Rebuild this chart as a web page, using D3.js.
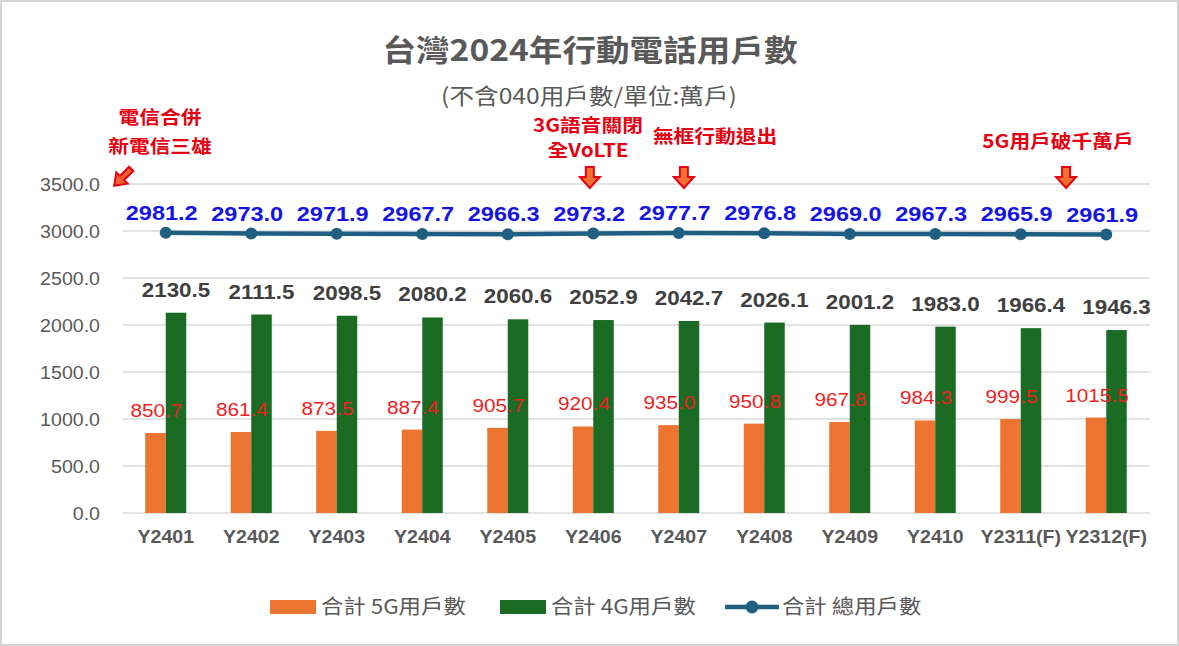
<!DOCTYPE html>
<html><head><meta charset="utf-8">
<script src="https://cdn.jsdelivr.net/npm/d3@7"></script>
<style>
html,body{margin:0;padding:0;background:#fff;}
svg{display:block;}
text{font-family:"Liberation Sans",Arial,"Noto Sans CJK TC",sans-serif;}
.cjk{font-family:"Noto Sans CJK TC","Liberation Sans",sans-serif;}
</style></head>
<body>
<script>
const categories = ["Y2401","Y2402","Y2403","Y2404","Y2405","Y2406","Y2407","Y2408","Y2409","Y2410","Y2311(F)","Y2312(F)"];
const users5G = [850.7,861.4,873.5,887.4,905.7,920.4,935.0,950.8,967.8,984.3,999.5,1015.5];
const users4G = [2130.5,2111.5,2098.5,2080.2,2060.6,2052.9,2042.7,2026.1,2001.2,1983.0,1966.4,1946.3];
const usersTotal = [2981.2,2973.0,2971.9,2967.7,2966.3,2973.2,2977.7,2976.8,2969.0,2967.3,2965.9,2961.9];
const yTicks = [0,500,1000,1500,2000,2500,3000,3500];
const seriesNames = ["合計 5G用戶數","合計 4G用戶數","合計 總用戶數"];
const title = "台灣2024年行動電話用戶數";
const subtitle = "(不含040用戶數/單位:萬戶)";
const eventCats = ["Y2401","Y2406","Y2407","Y2312(F)"];
const eventTexts = [["電信合併","新電信三雄"],["3G語音關閉","全VoLTE"],["無框行動退出"],["5G用戶破千萬戶"]];

const W = 1179, H = 646, SX = 1.12;
const C5 = "#ed7431", C4 = "#1b6b25", CL = "#1f5f82", GRID = "#d9d9d9", TXT = "#595959";
const svg = d3.select("body").append("svg").attr("width", W).attr("height", H);
svg.append("rect").attr("x",1).attr("y",1).attr("width",W-2).attr("height",H-2)
  .attr("fill","#fff").attr("stroke","#d4d4d4").attr("stroke-width",2);

const x = d3.scaleBand().domain(categories).range([123,1149]).paddingInner(0).paddingOuter(0);
const y = d3.scaleLinear().domain([0,3500]).range([513,184]);
const sub = d3.scaleBand().domain(["5G","4G"]).range([0,41]);
const off = (x.bandwidth()-41)/2;

// grid
svg.append("g").selectAll("line").data(yTicks).join("line")
  .attr("x1",123).attr("x2",1150).attr("y1",d=>y(d)).attr("y2",d=>y(d))
  .attr("stroke",GRID).attr("stroke-width",1.5);
// y axis
const yAxis = svg.append("g").attr("transform","translate(100,0)")
  .call(d3.axisLeft(y).tickValues(yTicks).tickFormat(d3.format(".1f")).tickSize(0).tickPadding(0));
yAxis.select(".domain").remove();
yAxis.selectAll("text").attr("fill",TXT).attr("font-size",17.5).attr("dy","0.35em")
  .style("font-family","'Liberation Sans',Arial,sans-serif");
// x axis
const xAxis = svg.append("g").attr("transform","translate(0,530)")
  .call(d3.axisBottom(x).tickSize(0).tickPadding(0));
xAxis.select(".domain").remove();
xAxis.selectAll("text").attr("fill",TXT).attr("font-size",17.5).attr("font-weight","bold")
  .attr("dy","0.75em").style("font-family","'Liberation Sans',Arial,sans-serif");

// bars 5G
svg.append("g").selectAll("rect").data(users5G).join("rect")
  .attr("x",(d,i)=>x(categories[i])+off+sub("5G")).attr("width",sub.bandwidth())
  .attr("y",d=>y(d)).attr("height",d=>y(0)-y(d)).attr("fill",C5);
// bars 4G
svg.append("g").selectAll("rect").data(users4G).join("rect")
  .attr("x",(d,i)=>x(categories[i])+off+sub("4G")).attr("width",sub.bandwidth())
  .attr("y",d=>y(d)).attr("height",d=>y(0)-y(d)).attr("fill",C4);

// 5G labels
svg.append("g").selectAll("text").data(users5G).join("text")
  .attr("x",(d,i)=>x(categories[i])+off+sub("5G")+sub.bandwidth()/2+1)
  .attr("y",d=>y(d)-16).attr("text-anchor","middle")
  .attr("font-size",18.5).attr("fill","#f01e1e").text(d=>d.toFixed(1));
// 4G labels
svg.append("g").selectAll("text").data(users4G).join("text")
  .attr("x",(d,i)=>x(categories[i])+off+sub("4G")+sub.bandwidth()/2)
  .attr("y",d=>y(d)-16).attr("text-anchor","middle").attr("font-weight","bold")
  .attr("font-size",20).attr("fill","#404040").text(d=>d.toFixed(1));

// total line
const cx = c => x(c)+x.bandwidth()/2;
svg.append("path").datum(usersTotal)
  .attr("d",d3.line().x((d,i)=>cx(categories[i])).y(d=>y(d)))
  .attr("fill","none").attr("stroke",CL).attr("stroke-width",4.5);
svg.append("g").selectAll("circle").data(usersTotal).join("circle")
  .attr("cx",(d,i)=>cx(categories[i])).attr("cy",d=>y(d)).attr("r",6).attr("fill",CL);
svg.append("g").selectAll("text").data(usersTotal).join("text")
  .attr("x",(d,i)=>cx(categories[i])-4).attr("y",d=>y(d)-13).attr("text-anchor","middle")
  .attr("font-weight","bold").attr("font-size",21).attr("fill","#1414e6").text(d=>d.toFixed(1));

// titles
svg.append("text").attr("class","cjk").attr("x",590).attr("y",61).attr("text-anchor","middle")
  .attr("font-size",30).attr("font-weight","bold").attr("fill",TXT).text(title);
svg.append("text").attr("class","cjk").attr("x",589).attr("y",104).attr("text-anchor","middle")
  .attr("font-size",22).attr("fill",TXT).text(subtitle);

// event annotations
const RED = "#e60012";
const textX = [160,588,715,1058];
const textY = [[124,153],[132,157],[143],[148]];
const arrowFrac = [0, 0.46, 0.56, 0.03];
eventCats.forEach((cat,e)=>{
  eventTexts[e].forEach((ln,k)=>{
    svg.append("text").attr("class","cjk").attr("x",textX[e]).attr("y",textY[e][k])
      .attr("text-anchor","middle").attr("font-size",18.5).attr("font-weight","bold")
      .attr("fill",RED).text(ln);
  });
  const g = svg.append("g");
  if(e===0){
    g.attr("transform",`translate(122,178) rotate(45)`);
    g.append("path").attr("d","M-3,-13 L3,-13 L3,0 L8,0 L0,11 L-8,0 L-3,0 Z")
      .attr("fill","#f06030").attr("stroke",RED).attr("stroke-width",2);
  } else {
    const ax = x(cat) + x.bandwidth()*arrowFrac[e];
    g.attr("transform",`translate(${ax},167)`);
    g.append("path").attr("d","M-4,0 L4,0 L4,10 L10,10 L0,21 L-10,10 L-4,10 Z")
      .attr("fill","#f07030").attr("stroke",RED).attr("stroke-width",2);
  }
});

// legend
const leg = svg.append("g").attr("class","cjk");
leg.append("rect").attr("x",270).attr("y",600).attr("width",46).attr("height",14).attr("fill",C5);
leg.append("text").attr("x",321).attr("y",614).attr("font-size",20).attr("fill",TXT).text(seriesNames[0]);
leg.append("rect").attr("x",500).attr("y",600).attr("width",46).attr("height",14).attr("fill",C4);
leg.append("text").attr("x",551).attr("y",614).attr("font-size",20).attr("fill",TXT).text(seriesNames[1]);
leg.append("line").attr("x1",725).attr("x2",779).attr("y1",607).attr("y2",607).attr("stroke",CL).attr("stroke-width",4.5);
leg.append("circle").attr("cx",752).attr("cy",607).attr("r",6.5).attr("fill",CL);
leg.append("text").attr("x",782).attr("y",614).attr("font-size",20).attr("fill",TXT).text(seriesNames[2]);
leg.selectAll("text").style("font-family","'Noto Sans CJK TC',sans-serif");

// horizontal stretch of all text to match the reference's wider glyphs
svg.selectAll("text").each(function(){
  const t = d3.select(this);
  const tx = +(t.attr("x") || 0);
  t.attr("transform", `translate(${tx},0) scale(${SX},1) translate(${-tx},0)`);
});
</script>
</body></html>
